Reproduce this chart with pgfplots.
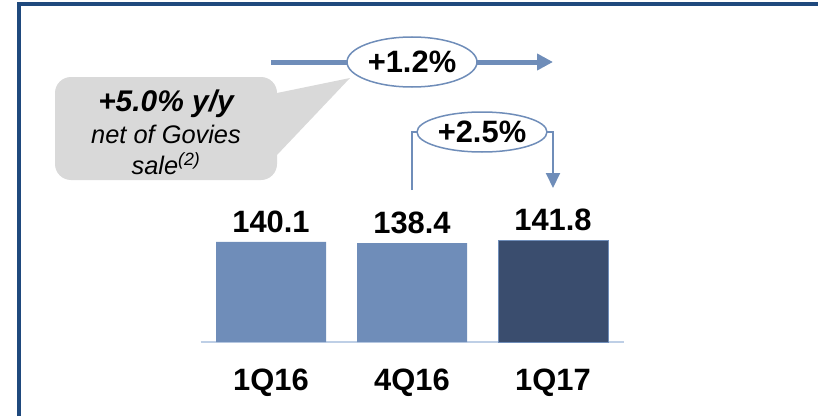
\documentclass[border=0pt]{standalone}
\usepackage{fontspec}
\setmainfont{Liberation Sans}
\usepackage{pgfplots}
\pgfplotsset{compat=1.18}
\usetikzlibrary{arrows.meta}
\definecolor{barlight}{RGB}{111,141,185}
\definecolor{bardark}{RGB}{58,77,110}
\definecolor{frameblue}{RGB}{31,73,125}
\definecolor{baseblue}{RGB}{190,207,230}
\definecolor{callout}{RGB}{217,217,217}
\begin{document}
\begin{tikzpicture}[x=1bp,y=1bp]
\useasboundingbox (0,0) rectangle (818,416);
\draw[frameblue, line width=4bp] (19,0) -- (19,412) -- (818,412);
% callout
\fill[callout] (277,323) -- (350,338) -- (277,261) -- cycle;
\fill[callout, rounded corners=16bp] (55,236) rectangle (277,339);
\node[anchor=base, inner sep=0pt, font=\bfseries\itshape\fontsize{30}{32}\selectfont] at (166,305) {+5.0\% y/y};
\node[anchor=base, inner sep=0pt, font=\itshape\fontsize{25.5}{28}\selectfont] at (166,273) {net of Govies};
\node[anchor=base, inner sep=0pt, font=\itshape\fontsize{25.5}{28}\selectfont] at (166,242) {sale\textsuperscript{(2)}};
% +1.2% arrow
\draw[barlight, line width=5bp, -{Triangle[length=16bp,width=16bp]}] (271,354) -- (553,354);
\draw[barlight, fill=white, line width=1.5bp] (412,354) ellipse [x radius=65, y radius=25];
\node[font=\bfseries\fontsize{31}{32}\selectfont] at (412,354) {+1.2\%};
% +2.5% bracket
\draw[barlight, line width=2bp, -{Triangle[length=15bp,width=14bp]}] (412,226) -- (412,284) -- (553,284) -- (553,228);
\draw[barlight, fill=white, line width=1.5bp] (482,284) ellipse [x radius=65, y radius=20];
\node[font=\bfseries\fontsize{31}{32}\selectfont] at (482,284) {+2.5\%};
\begin{axis}[
  at={(200.5bp,74bp)}, anchor=south west, scale only axis,
  width=423bp, height=200bp,
  xmin=-0.5, xmax=2.5, ymin=0, ymax=280,
  clip=false,
  axis y line=none, axis x line=bottom,
  x axis line style={-, baseblue, line width=2bp},
  ybar, bar width=110bp, bar shift=0pt,
  xtick={0,1,2}, xticklabels={1Q16,4Q16,1Q17},
  major tick length=0pt,
  xticklabel style={font=\bfseries\fontsize{31}{32}\selectfont, yshift=-23bp},
  nodes near coords,
  every node near coord/.append style={font=\bfseries\fontsize{31}{32}\selectfont, black, yshift=6bp},
  /pgf/number format/assume math mode=true,
  /pgf/number format/fixed, /pgf/number format/fixed zerofill, /pgf/number format/precision=1,
]
\addplot[fill=barlight, draw=none] coordinates {(0,140.1) (1,138.4)};
\addplot[fill=bardark, draw=barlight, line width=1bp] coordinates {(2,141.8)};
\end{axis}
\end{tikzpicture}
\end{document}
